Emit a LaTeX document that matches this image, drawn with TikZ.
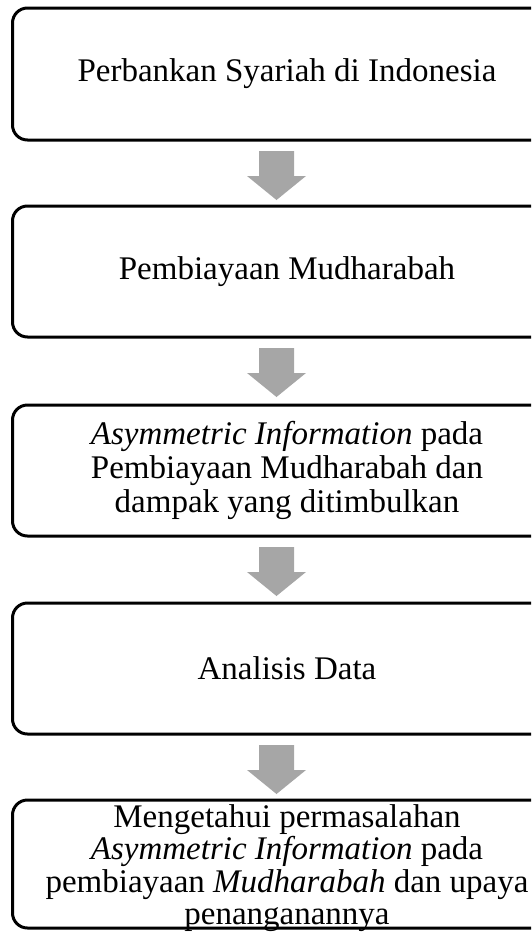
\documentclass[tikz,border=0pt]{standalone}
\usepackage{fontspec}
\setmainfont{Liberation Serif}
\definecolor{arrowgray}{RGB}{166,166,166}
\tikzset{
  flowbox/.style={draw=black, line width=3pt, rounded corners=15pt, minimum width=549pt, inner sep=0pt},
  flowtext/.style={align=center, inner sep=0pt, font=\fontsize{33}{34}\selectfont},
}
\begin{document}
\begin{tikzpicture}[x=1pt,y=-1pt]
\useasboundingbox (0,0) rectangle (531,932);
\clip (0,0) rectangle (531,932);
% boxes
\node[flowbox, minimum height=132pt] (b1) at (287,74) {};
\node[flowbox, minimum height=131pt] (b2) at (287,271.5) {};
\node[flowbox, minimum height=131pt] (b3) at (287,470.5) {};
\node[flowbox, minimum height=131pt] (b4) at (287,668.5) {};
\node[flowbox, minimum height=128pt] (b5) at (287,864) {};
% texts
\node[flowtext] (t1) at (b1.center) {Perbankan Syariah di Indonesia};
\node[flowtext] (t2) at (b2.center) {Pembiayaan Mudharabah};
\node[flowtext] (t3) at (b3.center) {\textit{Asymmetric Information} pada\\Pembiayaan Mudharabah dan\\dampak yang ditimbulkan};
\node[flowtext] (t4) at (b4.center) {Analisis Data};
\node[flowtext, font=\fontsize{33}{32.5}\selectfont, yshift=-4pt] (t5) at (b5.center) {Mengetahui permasalahan\\\textit{Asymmetric Information} pada\\pembiayaan \textit{Mudharabah} dan upaya\\penanganannya};
% block arrows
\foreach \u/\l in {b1/b2,b2/b3,b3/b4,b4/b5}{
  \coordinate (g) at (276.5,0 |- \u.south);
  \fill[arrowgray] ([xshift=-17.5pt,yshift=-9.5pt]g) -- ([xshift=17.5pt,yshift=-9.5pt]g)
    -- ([xshift=17.5pt,yshift=-34.5pt]g) -- ([xshift=29.5pt,yshift=-34.5pt]g)
    -- ([yshift=-58.5pt]g) -- ([xshift=-29.5pt,yshift=-34.5pt]g)
    -- ([xshift=-17.5pt,yshift=-34.5pt]g) -- cycle;
}
\end{tikzpicture}
\end{document}
